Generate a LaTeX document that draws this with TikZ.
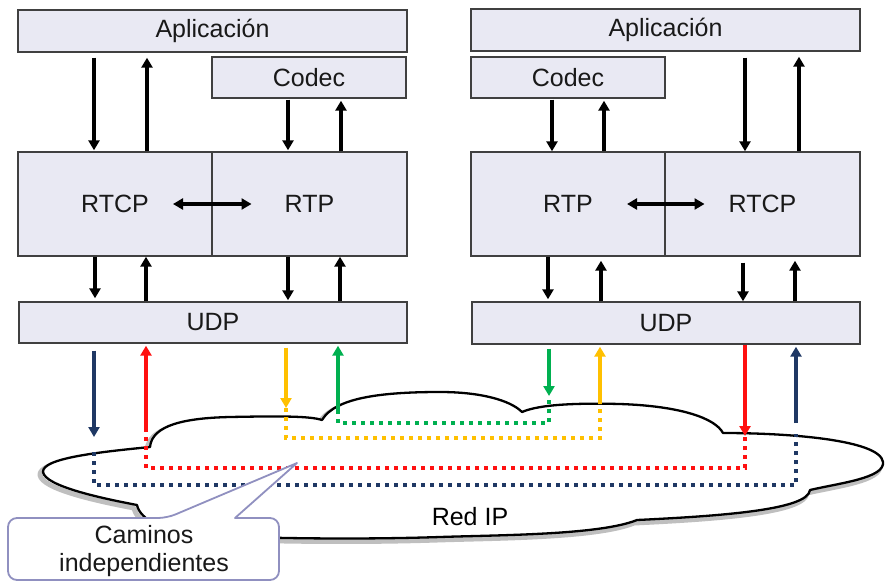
\documentclass[tikz,border=0pt]{standalone}
\usepackage{fontspec}
\setmainfont{Liberation Sans}
\usetikzlibrary{arrows.meta}
\definecolor{boxfill}{HTML}{E9E9F3}
\definecolor{boxline}{HTML}{404040}
\definecolor{cnavy}{HTML}{1F3864}
\definecolor{cred}{HTML}{FF1010}
\definecolor{cyellow}{HTML}{FFC000}
\definecolor{cgreen}{HTML}{00B050}
\definecolor{callout}{HTML}{9090C0}
\tikzset{
  layer/.style={draw=boxline, line width=1.4pt, fill=boxfill, inner sep=0pt,
    font=\fontsize{25}{30}\selectfont, text=black!90},
  arr/.style={line width=3.5pt, -{Triangle[width=11pt,length=10pt]}},
  twoway/.style={line width=3.5pt, {Triangle[width=11pt,length=10pt]}-{Triangle[width=11pt,length=10pt]}},
  dots/.style={line width=3.5pt, dash pattern=on 4pt off 5pt},
}
\begin{document}
\begin{tikzpicture}[x=1pt, y=-1pt]
\useasboundingbox (0,0) rectangle (885,583);

% ---------- left protocol stack ----------
\node[layer, minimum width=389pt, minimum height=42pt] (appL) at (212.5,31) {Aplicación};
\node[layer, minimum width=194pt, minimum height=41pt] (codecL) at (309,77.5) {Codec};
\node[layer, minimum width=194pt, minimum height=104pt] (rtcpL) at (115,204) {RTCP};
\node[layer, minimum width=195pt, minimum height=104pt] (rtpL) at (309.5,204) {RTP};
\node[layer, minimum width=388pt, minimum height=41pt] (udpL) at (213,322.5) {UDP};

% ---------- right protocol stack ----------
\node[layer, minimum width=389pt, minimum height=42pt] (appR) at (665.5,30) {Aplicación};
\node[layer, minimum width=194pt, minimum height=41pt] (codecR) at (568,77.5) {Codec};
\node[layer, minimum width=194pt, minimum height=104pt] (rtpR) at (568,204) {RTP};
\node[layer, minimum width=195pt, minimum height=104pt] (rtcpR) at (762.5,204) {RTCP};
\node[layer, minimum width=388pt, minimum height=42pt] (udpR) at (666,323) {UDP};

% ---------- black arrows, left ----------
\draw[arr, shorten <=5pt, shorten >=1pt] (94,0 |- appL.south) -- (94,0 |- rtcpL.north);
\draw[arr, shorten >=5pt] (147,0 |- rtcpL.north) -- (147,0 |- appL.south);
\draw[arr, shorten <=1pt, shorten >=1pt] (288,0 |- codecL.south) -- (288,0 |- rtpL.north);
\draw[arr, shorten >=2pt] (341,0 |- rtpL.north) -- (341,0 |- codecL.south);
\draw[arr, shorten >=3pt] (95,0 |- rtcpL.south) -- (95,0 |- udpL.north);
\draw[arr] (146,0 |- udpL.north) -- (146,0 |- rtcpL.south);
\draw[arr, shorten >=1pt] (288,0 |- rtpL.south) -- (288,0 |- udpL.north);
\draw[arr] (340,0 |- udpL.north) -- (340,0 |- rtpL.south);
\draw[twoway] ([xshift=58pt]rtcpL.center) -- ([xshift=-58pt]rtpL.center);

% ---------- black arrows, right ----------
\draw[arr, shorten <=1pt] (552,0 |- codecR.south) -- (552,0 |- rtpR.north);
\draw[arr, shorten >=2pt] (604,0 |- rtpR.north) -- (604,0 |- codecR.south);
\draw[arr, shorten <=6pt] (745,0 |- appR.south) -- (745,0 |- rtcpR.north);
\draw[arr, shorten >=5pt] (799,0 |- rtcpR.north) -- (799,0 |- appR.south);
\draw[arr, shorten >=2pt] (548,0 |- rtpR.south) -- (548,0 |- udpR.north);
\draw[arr, shorten >=4pt] (601,0 |- udpR.north) -- (601,0 |- rtpR.south);
\draw[arr, shorten <=6pt] (743,0 |- rtcpR.south) -- (743,0 |- udpR.north);
\draw[arr, shorten >=4pt] (795,0 |- udpR.north) -- (795,0 |- rtcpR.south);
\draw[twoway] ([xshift=59pt]rtpR.center) -- ([xshift=-58pt]rtcpR.center);

% ---------- IP network cloud ----------
\def\cloudpath{(150,447) .. controls (152,425) and (185,418) .. (230,417)
  .. controls (280,416) and (310,416) .. (322,420)
  .. controls (335,398) and (380,392) .. (440,392)
  .. controls (480,392) and (510,400) .. (522,412)
  .. controls (540,404) and (580,403) .. (620,404)
  .. controls (680,406) and (715,418) .. (723,433)
  .. controls (790,433) and (880,440) .. (883,462)
  .. controls (885,478) and (840,483) .. (810,490)
  .. controls (808,510) and (720,516) .. (637,520)
  .. controls (600,535) and (500,535) .. (440,537)
  .. controls (350,540) and (250,538) .. (200,535)
  .. controls (165,532) and (140,520) .. (137,505)
  .. controls (100,498) and (45,486) .. (43,472)
  .. controls (42,458) and (100,452) .. (150,447) -- cycle}
\draw[line width=5pt, black, opacity=0.25, line join=round] [shift={(-3,3)}] \cloudpath;
\draw[line width=2.3pt, black, fill=white, line join=round] \cloudpath;
\node[font=\fontsize{25}{30}\selectfont] (net) at (470,517) {Red IP};

% ---------- independent paths through the network ----------
% navy
\coordinate (n1) at (94,437); \coordinate (n2) at (94,452);
\coordinate (n3) at (796,434); \coordinate (n4) at (796,423);
\draw[arr, cnavy, shorten <=7pt] (94,0 |- udpL.south) -- (n1);
\draw[dots, cnavy] (n2) |- (796,485) -- (n3);
\draw[arr, cnavy, shorten >=2pt] (n4) -- (796,0 |- udpR.south);
% red
\coordinate (r1) at (146,428); \coordinate (r2) at (745,436);
\draw[arr, cred, shorten >=2pt] (r1) -- (146,0 |- udpL.south);
\draw[dots, cred] (r1) |- (745,468) -- (r2);
\draw[arr, cred] (745,0 |- udpR.south) -- (r2);
% yellow
\coordinate (y1) at (286,408); \coordinate (y2) at (600,404);
\draw[arr, cyellow, shorten <=4pt] (286,0 |- udpL.south) -- (y1);
\draw[dots, cyellow] (y1) |- (600,438) -- (y2);
\draw[arr, cyellow, shorten >=2pt] (y2) -- (600,0 |- udpR.south);
% green
\coordinate (g1) at (338,410); \coordinate (g2) at (549,396);
\draw[arr, cgreen, shorten >=2pt] (g1) -- (338,0 |- udpL.south);
\draw[dots, cgreen] (g1) |- (549,423) -- (g2);
\draw[arr, cgreen, shorten <=4pt] (549,0 |- udpR.south) -- (g2);

% ---------- callout ----------
\draw[callout, line width=1.8pt, fill=white, line join=round]
  (235,518) [rounded corners=9pt] -- (279,518) -- (279,580) -- (8,580) -- (8,518)
  -- (167,518) [sharp corners] -- (297,463) -- cycle;
\node[font=\fontsize{25}{28}\selectfont, align=center, text=black!90] (lbl) at (144,551)
  {Caminos\\independientes};
\end{tikzpicture}
\end{document}
